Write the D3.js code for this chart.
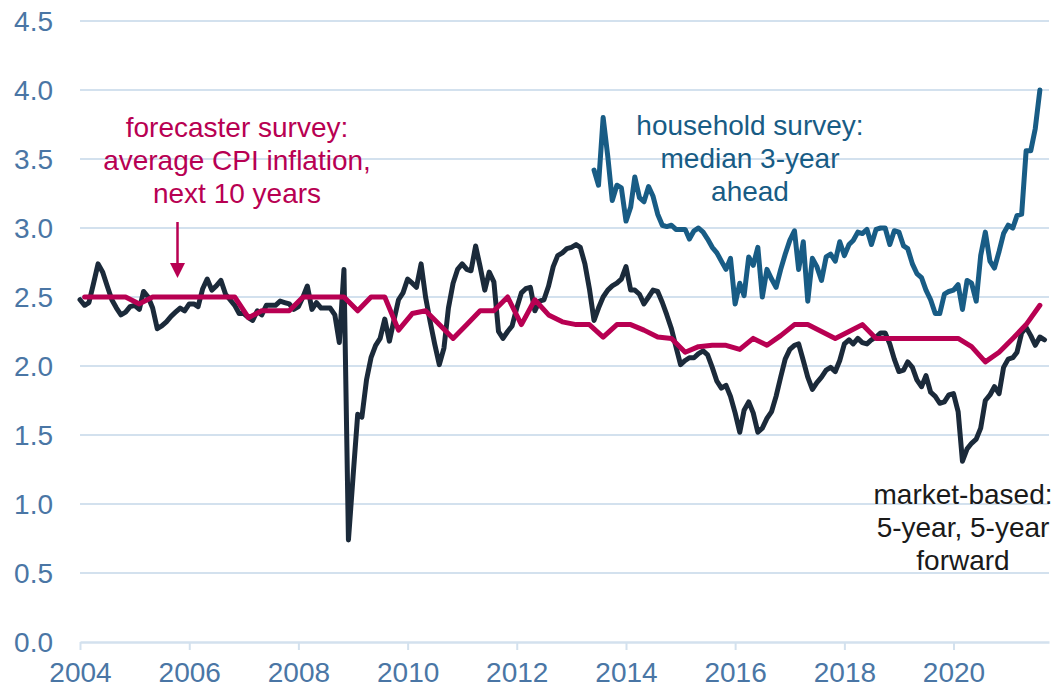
<!DOCTYPE html>
<html>
<head>
<meta charset="utf-8">
<script src="https://cdn.jsdelivr.net/npm/d3@7"></script>
<style>
  html, body { margin: 0; padding: 0; background: #fff; }
  svg { display: block; font-family: Arial, "Liberation Sans", sans-serif; }
</style>
</head>
<body>
<svg id="chart"></svg>
<script>
// market-based 5y5y forward, monthly from Jan 2004
var marketStart = new Date(2004, 0, 1);
var marketValues = [
    2.48, 2.44, 2.46, 2.60, 2.74, 2.68, 2.58, 2.48, 2.42, 2.37, 2.39, 2.43,
    2.44, 2.41, 2.54, 2.50, 2.42, 2.27, 2.29, 2.32, 2.36, 2.39, 2.42, 2.40,
    2.45, 2.45, 2.43, 2.56, 2.63, 2.55, 2.58, 2.62, 2.52, 2.48, 2.44, 2.38,
    2.38, 2.35, 2.33, 2.40, 2.37, 2.44, 2.44, 2.44, 2.47, 2.46, 2.45, 2.41,
    2.43, 2.50, 2.58, 2.41, 2.46, 2.42, 2.42, 2.42, 2.37, 2.17, 2.70, 0.74,
    1.20, 1.65, 1.63, 1.90, 2.06, 2.15, 2.20, 2.34, 2.18, 2.33, 2.48, 2.53,
    2.63, 2.60, 2.57, 2.74, 2.50, 2.32, 2.16, 2.01, 2.13, 2.42, 2.60, 2.70,
    2.74, 2.70, 2.69, 2.87, 2.72, 2.55, 2.68, 2.61, 2.25, 2.20, 2.25, 2.29,
    2.42, 2.53, 2.56, 2.57, 2.40, 2.47, 2.48, 2.58, 2.72, 2.80, 2.82, 2.85,
    2.86, 2.88, 2.86, 2.74, 2.56, 2.33, 2.42, 2.50, 2.55, 2.58, 2.60, 2.63,
    2.72, 2.55, 2.55, 2.52, 2.45, 2.50, 2.55, 2.54, 2.46, 2.37, 2.27, 2.14,
    2.01, 2.04, 2.06, 2.06, 2.09, 2.11, 2.08, 1.99, 1.89, 1.84, 1.86, 1.78,
    1.66, 1.52, 1.68, 1.74, 1.66, 1.52, 1.55, 1.62, 1.67, 1.78, 1.92, 2.05,
    2.12, 2.15, 2.16, 2.04, 1.92, 1.83, 1.88, 1.92, 1.97, 1.99, 1.96, 2.04,
    2.16, 2.19, 2.16, 2.20, 2.17, 2.16, 2.19, 2.21, 2.24, 2.24, 2.16, 2.05,
    1.96, 1.97, 2.03, 1.99, 1.90, 1.85, 1.93, 1.81, 1.78, 1.73, 1.74, 1.79,
    1.80, 1.67, 1.31, 1.40, 1.44, 1.47, 1.55, 1.75, 1.79, 1.85, 1.80, 1.99,
    2.05, 2.06, 2.10, 2.24, 2.28, 2.22, 2.15, 2.21, 2.19
];

// household survey, median 3-year ahead, monthly from Jun 2013
var householdStart = new Date(2013, 5, 1);
var householdValues = [
    3.42, 3.31, 3.80, 3.52, 3.20, 3.31, 3.29,
    3.05, 3.15, 3.37, 3.22, 3.19, 3.30, 3.23, 3.10, 3.02, 3.01, 3.02, 2.99,
    2.99, 2.99, 2.92, 2.98, 3.00, 2.97, 2.92, 2.86, 2.82, 2.76, 2.70, 2.78,
    2.45, 2.60, 2.51, 2.79, 2.73, 2.86, 2.50, 2.70, 2.63, 2.57, 2.70, 2.81,
    2.91, 2.98, 2.70, 2.90, 2.47, 2.78, 2.72, 2.62, 2.79, 2.81, 2.76, 2.90,
    2.80, 2.88, 2.91, 2.97, 2.96, 2.99, 2.88, 2.99, 3.00, 3.00, 2.88, 2.98,
    2.97, 2.87, 2.85, 2.74, 2.67, 2.64, 2.55, 2.48, 2.38, 2.38, 2.52, 2.54,
    2.55, 2.59, 2.41, 2.62, 2.60, 2.47, 2.80, 2.97, 2.76, 2.71, 2.83, 2.96,
    3.02, 3.00, 3.09, 3.10, 3.56, 3.56, 3.72, 4.00
];

// forecaster survey, 10-year CPI, quarterly from Feb 2004
var forecasterStart = new Date(2004, 1, 1);
var forecasterValues = [
    2.50, 2.50, 2.50, 2.50, 2.45, 2.50, 2.50, 2.50, 2.50, 2.50, 2.50, 2.50,
    2.35, 2.40, 2.40, 2.40, 2.50, 2.50, 2.50, 2.50, 2.40, 2.50, 2.50, 2.26,
    2.38, 2.40, 2.30, 2.20, 2.30, 2.40, 2.40, 2.50, 2.30, 2.48, 2.37, 2.32,
    2.30, 2.30, 2.21, 2.30, 2.30, 2.26, 2.21, 2.20, 2.10, 2.14, 2.15, 2.15,
    2.12, 2.20, 2.15, 2.22, 2.30, 2.30, 2.25, 2.20, 2.25, 2.30, 2.20, 2.20,
    2.20, 2.20, 2.20, 2.20, 2.20, 2.14, 2.03, 2.10, 2.20, 2.30, 2.44
];

var yTicks = [0, 0.5, 1, 1.5, 2, 2.5, 3, 3.5, 4, 4.5];
var xTickYears = [2004, 2006, 2008, 2010, 2012, 2014, 2016, 2018, 2020];

var forecasterLabel = ["forecaster survey:", "average CPI inflation,", "next 10 years"];
var householdLabel = ["household survey:", "median 3-year", "ahead"];
var marketLabel = ["market-based:", "5-year, 5-year", "forward"];

var width = 1058, height = 691;
var colMarket = "#1b2a3a", colHouse = "#185c85", colForecast = "#b80052";
var colAxisText = "#4a76a5", colGrid = "#d3e1ee";

function toSeries(start, values, step) {
    return values.map(function(v, i) {
        return {date: d3.timeMonth.offset(start, i * step), value: v};
    });
}

var market = toSeries(marketStart, marketValues, 1);
var household = toSeries(householdStart, householdValues, 1);
var forecaster = toSeries(forecasterStart, forecasterValues, 3);

var svg = d3.select("#chart")
    .attr("width", width)
    .attr("height", height);

var x = d3.scaleTime()
    .domain([new Date(2004, 0, 1), new Date(2021, 9, 1)])
    .range([80, 1049]);

var y = d3.scaleLinear()
    .domain([0, 4.5])
    .range([642, 21]);

// horizontal gridlines
svg.append("g")
    .selectAll("line")
    .data(yTicks.filter(function(d) { return d > 0; }))
    .enter()
    .append("line")
    .attr("x1", 80)
    .attr("x2", 1049)
    .attr("y1", function(d) { return y(d); })
    .attr("y2", function(d) { return y(d); })
    .attr("stroke", colGrid)
    .attr("stroke-width", 2);

// y labels
svg.append("g")
    .selectAll("text")
    .data(yTicks)
    .enter()
    .append("text")
    .attr("x", 53)
    .attr("y", function(d) { return y(d); })
    .attr("dy", "0.35em")
    .attr("text-anchor", "end")
    .attr("font-size", 28)
    .attr("fill", colAxisText)
    .text(function(d) { return d3.format(".1f")(d); });

// x axis
var xAxis = d3.axisBottom(x)
    .tickValues(xTickYears.map(function(yr) { return new Date(yr, 0, 1); }))
    .tickFormat(d3.timeFormat("%Y"))
    .tickSizeInner(8)
    .tickSizeOuter(0)
    .tickPadding(12);

var gx = svg.append("g")
    .attr("transform", "translate(0," + y(0) + ")")
    .call(xAxis);
gx.select(".domain").attr("stroke", colGrid).attr("stroke-width", 2.5);
gx.selectAll(".tick line").attr("stroke", colGrid).attr("stroke-width", 2);
gx.selectAll(".tick text")
    .attr("font-size", 28)
    .attr("font-family", "Arial, 'Liberation Sans', sans-serif")
    .attr("fill", colAxisText);

var line = d3.line()
    .x(function(d) { return x(d.date); })
    .y(function(d) { return y(d.value); });

function drawLine(data, color) {
    svg.append("path")
        .datum(data)
        .attr("d", line)
        .attr("fill", "none")
        .attr("stroke", color)
        .attr("stroke-width", 5)
        .attr("stroke-linejoin", "round")
        .attr("stroke-linecap", "round");
}

drawLine(market, colMarket);
drawLine(household, colHouse);
drawLine(forecaster, colForecast);

// labels
function drawLabel(lines, cx, firstBaseline, color) {
    svg.append("text")
        .attr("text-anchor", "middle")
        .attr("font-size", 28)
        .attr("fill", color)
        .selectAll("tspan")
        .data(lines)
        .enter()
        .append("tspan")
        .attr("x", cx)
        .attr("y", function(d, i) { return firstBaseline + i * 33; })
        .text(function(d) { return d; });
}

drawLabel(forecasterLabel, 237, 137, colForecast);
drawLabel(householdLabel, 750, 135, colHouse);
drawLabel(marketLabel, 963, 504, "#1a1a1a");

// arrow under forecaster label
svg.append("line")
    .attr("x1", 177.5).attr("x2", 177.5)
    .attr("y1", 222).attr("y2", 265)
    .attr("stroke", colForecast)
    .attr("stroke-width", 2.5);
svg.append("path")
    .attr("d", "M170,263L185,263L177.5,278Z")
    .attr("fill", colForecast);
</script>
</body>
</html>
